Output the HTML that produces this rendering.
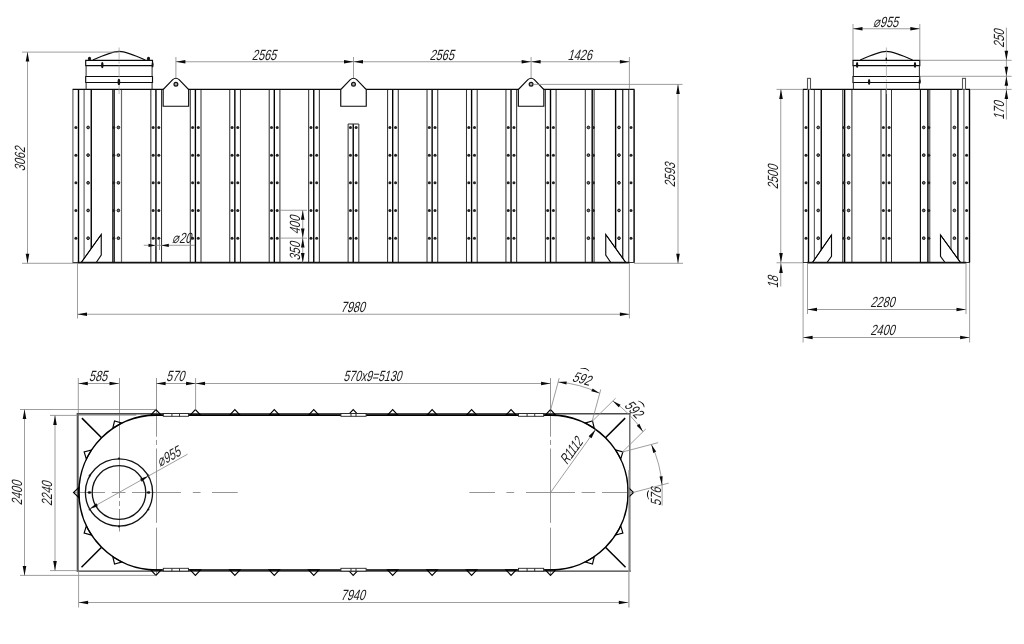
<!DOCTYPE html>
<html lang="ru"><head><meta charset="utf-8"><title>Tank drawing</title>
<style>
html,body{margin:0;padding:0;background:#fff;}
body{width:1024px;height:644px;overflow:hidden;}
svg{display:block;filter:grayscale(1);}
svg text{font-family:"Liberation Sans",sans-serif;font-style:normal;fill:#1c1c1c;}
.k{stroke:#000;stroke-width:1.4;fill:none}
.k2{stroke:#0a0a0a;stroke-width:1.15;fill:none}
.kk{stroke:#111;stroke-width:1.8;fill:none}
.t{stroke:#333;stroke-width:1.05;fill:none}
.g{stroke:#666;stroke-width:1.2;fill:none}
.arc{font-weight:bold;fill:#000 !important}
.d2{stroke:#999;stroke-width:1.2;fill:none}
.d{stroke:#858585;stroke-width:0.8;fill:none}
.dd{stroke:#555;stroke-width:0.8;fill:none}
.w{fill:#fff !important}
.kc{stroke:#111;stroke-width:1.3;fill:none}
.lh{stroke:#111;stroke-width:1.2;fill:#aaa}
.lg{stroke:#999;stroke-width:0.8;stroke-dasharray:5 2;fill:none}
.c{stroke:#8a8a8a;stroke-width:0.9;fill:none}
.cl{stroke:#999;stroke-width:0.7;stroke-dasharray:12 2 2 2;fill:none}
.cl2{stroke:#777;stroke-width:0.6;stroke-dasharray:14 5;fill:none}
.cl3{stroke:#888;stroke-width:0.6;stroke-dasharray:22 4 3 4;fill:none}
.f1{stroke:#3a3a3a;stroke-width:1.3;fill:none}
.f2{stroke:#4a4a4a;stroke-width:1.6;fill:none}
.f3{stroke:#777;stroke-width:1.3;fill:none}
.f4{stroke:#555;stroke-width:2;fill:none}
.f5{stroke:#555;stroke-width:1.3;fill:none}
.kg{stroke:#000;stroke-width:1.0;fill:none}
.st{stroke:#555;stroke-width:1.1;fill:#fff}
.ka{stroke:#000;stroke-width:1.55;fill:none}
.kb{stroke:#000;stroke-width:1.5;fill:none}
.ar{fill:#0a0a0a;stroke:none}
.tr{fill:none;stroke:#000;stroke-width:1.15;stroke-linejoin:miter}
.lr{fill:#fff;stroke:#222;stroke-width:0.9}
.hd{fill:#222;stroke:none}
.hr{fill:#777;stroke:#111;stroke-width:1.0}
</style></head>
<body>
<svg width="1024" height="644" viewBox="0 0 1024 644">
<rect width="1024" height="644" fill="#fff"/>
<line class="t" x1="150.84" y1="89.40" x2="150.84" y2="262.50"/>
<line class="k" x1="155.94" y1="89.40" x2="155.94" y2="262.50"/>
<line class="t" x1="161.54" y1="89.40" x2="161.54" y2="262.50"/>
<circle class="hd" cx="153.14" cy="127.45" r="1.5"/>
<circle class="hd" cx="158.84" cy="127.45" r="1.5"/>
<circle class="hd" cx="153.14" cy="155.15" r="1.5"/>
<circle class="hd" cx="158.84" cy="155.15" r="1.5"/>
<circle class="hd" cx="153.14" cy="182.80" r="1.5"/>
<circle class="hd" cx="158.84" cy="182.80" r="1.5"/>
<circle class="hd" cx="153.14" cy="210.45" r="1.5"/>
<circle class="hd" cx="158.84" cy="210.45" r="1.5"/>
<circle class="hd" cx="153.14" cy="238.20" r="1.5"/>
<circle class="hd" cx="158.84" cy="238.20" r="1.5"/>
<line class="t" x1="190.30" y1="89.40" x2="190.30" y2="262.50"/>
<line class="k" x1="195.40" y1="89.40" x2="195.40" y2="262.50"/>
<line class="t" x1="201.00" y1="89.40" x2="201.00" y2="262.50"/>
<circle class="hd" cx="192.60" cy="127.45" r="1.5"/>
<circle class="hd" cx="198.30" cy="127.45" r="1.5"/>
<circle class="hd" cx="192.60" cy="155.15" r="1.5"/>
<circle class="hd" cx="198.30" cy="155.15" r="1.5"/>
<circle class="hd" cx="192.60" cy="182.80" r="1.5"/>
<circle class="hd" cx="198.30" cy="182.80" r="1.5"/>
<circle class="hd" cx="192.60" cy="210.45" r="1.5"/>
<circle class="hd" cx="198.30" cy="210.45" r="1.5"/>
<circle class="hd" cx="192.60" cy="238.20" r="1.5"/>
<circle class="hd" cx="198.30" cy="238.20" r="1.5"/>
<line class="t" x1="229.75" y1="89.40" x2="229.75" y2="262.50"/>
<line class="k" x1="234.85" y1="89.40" x2="234.85" y2="262.50"/>
<line class="t" x1="240.45" y1="89.40" x2="240.45" y2="262.50"/>
<circle class="hd" cx="232.05" cy="127.45" r="1.5"/>
<circle class="hd" cx="237.75" cy="127.45" r="1.5"/>
<circle class="hd" cx="232.05" cy="155.15" r="1.5"/>
<circle class="hd" cx="237.75" cy="155.15" r="1.5"/>
<circle class="hd" cx="232.05" cy="182.80" r="1.5"/>
<circle class="hd" cx="237.75" cy="182.80" r="1.5"/>
<circle class="hd" cx="232.05" cy="210.45" r="1.5"/>
<circle class="hd" cx="237.75" cy="210.45" r="1.5"/>
<circle class="hd" cx="232.05" cy="238.20" r="1.5"/>
<circle class="hd" cx="237.75" cy="238.20" r="1.5"/>
<line class="t" x1="269.21" y1="89.40" x2="269.21" y2="262.50"/>
<line class="k" x1="274.31" y1="89.40" x2="274.31" y2="262.50"/>
<line class="t" x1="279.91" y1="89.40" x2="279.91" y2="262.50"/>
<circle class="hd" cx="271.51" cy="127.45" r="1.5"/>
<circle class="hd" cx="277.21" cy="127.45" r="1.5"/>
<circle class="hd" cx="271.51" cy="155.15" r="1.5"/>
<circle class="hd" cx="277.21" cy="155.15" r="1.5"/>
<circle class="hd" cx="271.51" cy="182.80" r="1.5"/>
<circle class="hd" cx="277.21" cy="182.80" r="1.5"/>
<circle class="hd" cx="271.51" cy="210.45" r="1.5"/>
<circle class="hd" cx="277.21" cy="210.45" r="1.5"/>
<circle class="hd" cx="271.51" cy="238.20" r="1.5"/>
<circle class="hd" cx="277.21" cy="238.20" r="1.5"/>
<line class="t" x1="308.66" y1="89.40" x2="308.66" y2="262.50"/>
<line class="k" x1="313.76" y1="89.40" x2="313.76" y2="262.50"/>
<line class="t" x1="319.36" y1="89.40" x2="319.36" y2="262.50"/>
<circle class="hd" cx="310.96" cy="127.45" r="1.5"/>
<circle class="hd" cx="316.66" cy="127.45" r="1.5"/>
<circle class="hd" cx="310.96" cy="155.15" r="1.5"/>
<circle class="hd" cx="316.66" cy="155.15" r="1.5"/>
<circle class="hd" cx="310.96" cy="182.80" r="1.5"/>
<circle class="hd" cx="316.66" cy="182.80" r="1.5"/>
<circle class="hd" cx="310.96" cy="210.45" r="1.5"/>
<circle class="hd" cx="316.66" cy="210.45" r="1.5"/>
<circle class="hd" cx="310.96" cy="238.20" r="1.5"/>
<circle class="hd" cx="316.66" cy="238.20" r="1.5"/>
<line class="t" x1="348.12" y1="124.00" x2="348.12" y2="262.50"/>
<line class="k" x1="353.22" y1="124.00" x2="353.22" y2="262.50"/>
<line class="t" x1="358.82" y1="124.00" x2="358.82" y2="262.50"/>
<line class="t" x1="348.12" y1="124.00" x2="358.82" y2="124.00"/>
<circle class="hd" cx="350.42" cy="127.45" r="1.5"/>
<circle class="hd" cx="356.12" cy="127.45" r="1.5"/>
<circle class="hd" cx="350.42" cy="155.15" r="1.5"/>
<circle class="hd" cx="356.12" cy="155.15" r="1.5"/>
<circle class="hd" cx="350.42" cy="182.80" r="1.5"/>
<circle class="hd" cx="356.12" cy="182.80" r="1.5"/>
<circle class="hd" cx="350.42" cy="210.45" r="1.5"/>
<circle class="hd" cx="356.12" cy="210.45" r="1.5"/>
<circle class="hd" cx="350.42" cy="238.20" r="1.5"/>
<circle class="hd" cx="356.12" cy="238.20" r="1.5"/>
<line class="t" x1="387.58" y1="89.40" x2="387.58" y2="262.50"/>
<line class="k" x1="392.68" y1="89.40" x2="392.68" y2="262.50"/>
<line class="t" x1="398.28" y1="89.40" x2="398.28" y2="262.50"/>
<circle class="hd" cx="389.88" cy="127.45" r="1.5"/>
<circle class="hd" cx="395.58" cy="127.45" r="1.5"/>
<circle class="hd" cx="389.88" cy="155.15" r="1.5"/>
<circle class="hd" cx="395.58" cy="155.15" r="1.5"/>
<circle class="hd" cx="389.88" cy="182.80" r="1.5"/>
<circle class="hd" cx="395.58" cy="182.80" r="1.5"/>
<circle class="hd" cx="389.88" cy="210.45" r="1.5"/>
<circle class="hd" cx="395.58" cy="210.45" r="1.5"/>
<circle class="hd" cx="389.88" cy="238.20" r="1.5"/>
<circle class="hd" cx="395.58" cy="238.20" r="1.5"/>
<line class="t" x1="427.03" y1="89.40" x2="427.03" y2="262.50"/>
<line class="k" x1="432.13" y1="89.40" x2="432.13" y2="262.50"/>
<line class="t" x1="437.73" y1="89.40" x2="437.73" y2="262.50"/>
<circle class="hd" cx="429.33" cy="127.45" r="1.5"/>
<circle class="hd" cx="435.03" cy="127.45" r="1.5"/>
<circle class="hd" cx="429.33" cy="155.15" r="1.5"/>
<circle class="hd" cx="435.03" cy="155.15" r="1.5"/>
<circle class="hd" cx="429.33" cy="182.80" r="1.5"/>
<circle class="hd" cx="435.03" cy="182.80" r="1.5"/>
<circle class="hd" cx="429.33" cy="210.45" r="1.5"/>
<circle class="hd" cx="435.03" cy="210.45" r="1.5"/>
<circle class="hd" cx="429.33" cy="238.20" r="1.5"/>
<circle class="hd" cx="435.03" cy="238.20" r="1.5"/>
<line class="t" x1="466.49" y1="89.40" x2="466.49" y2="262.50"/>
<line class="k" x1="471.59" y1="89.40" x2="471.59" y2="262.50"/>
<line class="t" x1="477.19" y1="89.40" x2="477.19" y2="262.50"/>
<circle class="hd" cx="468.79" cy="127.45" r="1.5"/>
<circle class="hd" cx="474.49" cy="127.45" r="1.5"/>
<circle class="hd" cx="468.79" cy="155.15" r="1.5"/>
<circle class="hd" cx="474.49" cy="155.15" r="1.5"/>
<circle class="hd" cx="468.79" cy="182.80" r="1.5"/>
<circle class="hd" cx="474.49" cy="182.80" r="1.5"/>
<circle class="hd" cx="468.79" cy="210.45" r="1.5"/>
<circle class="hd" cx="474.49" cy="210.45" r="1.5"/>
<circle class="hd" cx="468.79" cy="238.20" r="1.5"/>
<circle class="hd" cx="474.49" cy="238.20" r="1.5"/>
<line class="t" x1="505.94" y1="89.40" x2="505.94" y2="262.50"/>
<line class="k" x1="511.04" y1="89.40" x2="511.04" y2="262.50"/>
<line class="t" x1="516.64" y1="89.40" x2="516.64" y2="262.50"/>
<circle class="hd" cx="508.24" cy="127.45" r="1.5"/>
<circle class="hd" cx="513.94" cy="127.45" r="1.5"/>
<circle class="hd" cx="508.24" cy="155.15" r="1.5"/>
<circle class="hd" cx="513.94" cy="155.15" r="1.5"/>
<circle class="hd" cx="508.24" cy="182.80" r="1.5"/>
<circle class="hd" cx="513.94" cy="182.80" r="1.5"/>
<circle class="hd" cx="508.24" cy="210.45" r="1.5"/>
<circle class="hd" cx="513.94" cy="210.45" r="1.5"/>
<circle class="hd" cx="508.24" cy="238.20" r="1.5"/>
<circle class="hd" cx="513.94" cy="238.20" r="1.5"/>
<line class="t" x1="545.40" y1="89.40" x2="545.40" y2="262.50"/>
<line class="k" x1="550.50" y1="89.40" x2="550.50" y2="262.50"/>
<line class="t" x1="556.10" y1="89.40" x2="556.10" y2="262.50"/>
<circle class="hd" cx="547.70" cy="127.45" r="1.5"/>
<circle class="hd" cx="553.40" cy="127.45" r="1.5"/>
<circle class="hd" cx="547.70" cy="155.15" r="1.5"/>
<circle class="hd" cx="553.40" cy="155.15" r="1.5"/>
<circle class="hd" cx="547.70" cy="182.80" r="1.5"/>
<circle class="hd" cx="553.40" cy="182.80" r="1.5"/>
<circle class="hd" cx="547.70" cy="210.45" r="1.5"/>
<circle class="hd" cx="553.40" cy="210.45" r="1.5"/>
<circle class="hd" cx="547.70" cy="238.20" r="1.5"/>
<circle class="hd" cx="553.40" cy="238.20" r="1.5"/>
<line class="g" x1="72.90" y1="89.40" x2="72.90" y2="262.50"/>
<line class="k" x1="78.50" y1="89.40" x2="78.50" y2="262.50"/>
<line class="g" x1="84.10" y1="89.40" x2="84.10" y2="262.50"/>
<line class="k" x1="91.25" y1="89.40" x2="91.25" y2="262.50"/>
<line class="t" x1="112.60" y1="89.40" x2="112.60" y2="262.50"/>
<line class="k" x1="114.10" y1="89.40" x2="114.10" y2="262.50"/>
<line class="g" x1="121.50" y1="89.40" x2="121.50" y2="262.50"/>
<line class="t" x1="585.30" y1="89.40" x2="585.30" y2="262.50"/>
<line class="k" x1="592.20" y1="89.40" x2="592.20" y2="262.50"/>
<line class="t" x1="594.10" y1="89.40" x2="594.10" y2="262.50"/>
<line class="k" x1="615.60" y1="89.40" x2="615.60" y2="262.50"/>
<line class="k2" x1="622.75" y1="89.40" x2="622.75" y2="262.50"/>
<line class="t" x1="628.75" y1="89.40" x2="628.75" y2="262.50"/>
<line class="k" x1="634.10" y1="89.40" x2="634.10" y2="262.50"/>
<circle class="hd" cx="75.90" cy="127.45" r="1.5"/>
<circle class="hr" cx="88.10" cy="127.45" r="1.35"/>
<circle class="hd" cx="113.75" cy="127.45" r="1.5"/>
<circle class="hr" cx="118.40" cy="127.45" r="1.35"/>
<circle class="hr" cx="588.40" cy="127.45" r="1.35"/>
<circle class="hd" cx="593.40" cy="127.45" r="1.5"/>
<circle class="hr" cx="619.00" cy="127.45" r="1.35"/>
<circle class="hd" cx="631.00" cy="127.45" r="1.5"/>
<circle class="hd" cx="75.90" cy="155.15" r="1.5"/>
<circle class="hr" cx="88.10" cy="155.15" r="1.35"/>
<circle class="hd" cx="113.75" cy="155.15" r="1.5"/>
<circle class="hr" cx="118.40" cy="155.15" r="1.35"/>
<circle class="hr" cx="588.40" cy="155.15" r="1.35"/>
<circle class="hd" cx="593.40" cy="155.15" r="1.5"/>
<circle class="hr" cx="619.00" cy="155.15" r="1.35"/>
<circle class="hd" cx="631.00" cy="155.15" r="1.5"/>
<circle class="hd" cx="75.90" cy="182.80" r="1.5"/>
<circle class="hr" cx="88.10" cy="182.80" r="1.35"/>
<circle class="hd" cx="113.75" cy="182.80" r="1.5"/>
<circle class="hr" cx="118.40" cy="182.80" r="1.35"/>
<circle class="hr" cx="588.40" cy="182.80" r="1.35"/>
<circle class="hd" cx="593.40" cy="182.80" r="1.5"/>
<circle class="hr" cx="619.00" cy="182.80" r="1.35"/>
<circle class="hd" cx="631.00" cy="182.80" r="1.5"/>
<circle class="hd" cx="75.90" cy="210.45" r="1.5"/>
<circle class="hr" cx="88.10" cy="210.45" r="1.35"/>
<circle class="hd" cx="113.75" cy="210.45" r="1.5"/>
<circle class="hr" cx="118.40" cy="210.45" r="1.35"/>
<circle class="hr" cx="588.40" cy="210.45" r="1.35"/>
<circle class="hd" cx="593.40" cy="210.45" r="1.5"/>
<circle class="hr" cx="619.00" cy="210.45" r="1.35"/>
<circle class="hd" cx="631.00" cy="210.45" r="1.5"/>
<circle class="hd" cx="75.90" cy="238.20" r="1.5"/>
<circle class="hr" cx="88.10" cy="238.20" r="1.35"/>
<circle class="hd" cx="113.75" cy="238.20" r="1.5"/>
<circle class="hr" cx="118.40" cy="238.20" r="1.35"/>
<circle class="hr" cx="588.40" cy="238.20" r="1.35"/>
<circle class="hd" cx="593.40" cy="238.20" r="1.5"/>
<circle class="hr" cx="619.00" cy="238.20" r="1.35"/>
<circle class="hd" cx="631.00" cy="238.20" r="1.5"/>
<line class="k2" x1="72.60" y1="89.40" x2="634.50" y2="89.40"/>
<path class="k2 w" d="M81.25,262.5 L101.25,234.5 L101.25,255 L96.25,262.5"/>
<path class="k2 w" d="M625.75,262.5 L605.75,234.5 L605.75,255 L610.75,262.5"/>
<line class="kg" x1="81.25" y1="262.50" x2="101.25" y2="234.50"/>
<line class="kg" x1="625.75" y1="262.50" x2="605.75" y2="234.50"/>
<line class="t" x1="72.60" y1="262.50" x2="634.50" y2="262.50"/>
<line class="kk" x1="77.50" y1="262.60" x2="629.50" y2="262.60"/>
<path class="k2 w" d="M163.15,106.25 L163.15,89.6 L172.70,79.6 Q175.90,76.9 179.10,79.6 L188.65,89.6 L188.65,106.25 Z"/>
<circle class="lh" cx="175.90" cy="84.30" r="1.90"/>
<path class="k2 w" d="M340.75,106.25 L340.75,89.6 L350.30,79.6 Q353.50,76.9 356.70,79.6 L366.25,89.6 L366.25,106.25 Z"/>
<circle class="lh" cx="353.50" cy="84.30" r="1.90"/>
<path class="k2 w" d="M518.35,106.25 L518.35,89.6 L527.90,79.6 Q531.10,76.9 534.30,79.6 L543.85,89.6 L543.85,106.25 Z"/>
<circle class="lh" cx="531.10" cy="84.30" r="1.90"/>
<path class="k2" d="M85.70,60.3 H152.50 V65.6 H85.70 Z"/>
<path class="k2" d="M85.70,76.5 H152.50 V82.5 H85.70 Z"/>
<line class="t" x1="86.10" y1="65.60" x2="86.10" y2="76.50"/>
<line class="t" x1="152.10" y1="65.60" x2="152.10" y2="76.50"/>
<line class="t" x1="86.10" y1="82.50" x2="86.10" y2="89.40"/>
<line class="t" x1="152.10" y1="82.50" x2="152.10" y2="89.40"/>
<path class="k2" d="M92.90,60.1 C105.10,54.5 113.10,51.4 119.10,51.4 C125.10,51.4 133.10,54.5 145.30,60.1"/>
<line class="cl" x1="119.10" y1="47.50" x2="119.10" y2="94.00"/>
<ellipse cx="89.50" cy="58.70" rx="1.6" ry="1.9" fill="#111"/>
<ellipse cx="148.50" cy="58.70" rx="1.6" ry="1.9" fill="#111"/>
<ellipse cx="102.30" cy="65.10" rx="1.2" ry="3.2" fill="#111"/>
<ellipse cx="118.90" cy="81.90" rx="1.3" ry="3.2" fill="#111"/>
<ellipse cx="152.60" cy="64.70" rx="1.0" ry="2.8" fill="#111"/>
<line class="d" x1="22.00" y1="52.10" x2="119.00" y2="52.10"/>
<line class="d" x1="22.00" y1="263.30" x2="77.50" y2="263.30"/>
<line class="d" x1="27.50" y1="52.10" x2="27.50" y2="263.30"/>
<polygon class="ar" points="27.50,52.10 29.30,61.60 25.70,61.60"/>
<polygon class="ar" points="27.50,263.30 25.70,253.80 29.30,253.80"/>
<text transform="translate(24.90,159.20) rotate(-90) skewX(-15) scale(0.74,1)" font-size="14.8" text-anchor="middle">3062</text>
<line class="d" x1="175.90" y1="57.00" x2="175.90" y2="78.00"/>
<line class="d" x1="353.50" y1="57.00" x2="353.50" y2="78.00"/>
<line class="d" x1="531.10" y1="57.00" x2="531.10" y2="78.00"/>
<line class="d" x1="629.40" y1="57.00" x2="629.40" y2="89.40"/>
<line class="d" x1="175.90" y1="61.75" x2="353.50" y2="61.75"/>
<polygon class="ar" points="175.90,61.75 185.40,59.95 185.40,63.55"/>
<polygon class="ar" points="353.50,61.75 344.00,63.55 344.00,59.95"/>
<text transform="translate(264.00,59.65) rotate(0) skewX(-15) scale(0.74,1)" font-size="14.8" text-anchor="middle">2565</text>
<line class="d" x1="353.50" y1="61.75" x2="531.10" y2="61.75"/>
<polygon class="ar" points="353.50,61.75 363.00,59.95 363.00,63.55"/>
<polygon class="ar" points="531.10,61.75 521.60,63.55 521.60,59.95"/>
<text transform="translate(441.60,59.65) rotate(0) skewX(-15) scale(0.74,1)" font-size="14.8" text-anchor="middle">2565</text>
<line class="d" x1="531.10" y1="61.75" x2="629.40" y2="61.75"/>
<polygon class="ar" points="531.10,61.75 540.60,59.95 540.60,63.55"/>
<polygon class="ar" points="629.40,61.75 619.90,63.55 619.90,59.95"/>
<text transform="translate(579.55,59.65) rotate(0) skewX(-15) scale(0.74,1)" font-size="14.8" text-anchor="middle">1426</text>
<line class="d" x1="533.10" y1="84.40" x2="682.50" y2="84.40"/>
<line class="d" x1="634.00" y1="263.30" x2="683.00" y2="263.30"/>
<line class="d" x1="678.00" y1="84.40" x2="678.00" y2="263.30"/>
<polygon class="ar" points="678.00,84.40 679.80,93.90 676.20,93.90"/>
<polygon class="ar" points="678.00,263.30 676.20,253.80 679.80,253.80"/>
<text transform="translate(675.40,175.05) rotate(-90) skewX(-15) scale(0.74,1)" font-size="14.8" text-anchor="middle">2593</text>
<line class="d" x1="77.50" y1="263.00" x2="77.50" y2="318.50"/>
<line class="d" x1="629.40" y1="263.00" x2="629.40" y2="318.50"/>
<line class="d" x1="77.50" y1="314.25" x2="629.40" y2="314.25"/>
<polygon class="ar" points="77.50,314.25 87.00,312.45 87.00,316.05"/>
<polygon class="ar" points="629.40,314.25 619.90,316.05 619.90,312.45"/>
<text transform="translate(352.75,312.15) rotate(0) skewX(-15) scale(0.74,1)" font-size="14.8" text-anchor="middle">7980</text>
<line class="d" x1="143.75" y1="245.30" x2="195.00" y2="245.30"/>
<polygon class="ar" points="155.50,245.40 148.50,247.10 148.50,243.70"/>
<polygon class="ar" points="161.30,245.40 168.80,243.70 168.80,247.10"/>
<line class="c" x1="159.50" y1="240.00" x2="159.50" y2="250.00"/>
<text transform="translate(181.80,242.60) rotate(0) skewX(-15) scale(0.74,1)" font-size="14.8" text-anchor="middle">⌀20</text>
<line class="d" x1="279.00" y1="210.25" x2="307.00" y2="210.25"/>
<line class="d" x1="279.00" y1="238.10" x2="307.00" y2="238.10"/>
<line class="d" x1="302.75" y1="210.25" x2="302.75" y2="262.50"/>
<polygon class="ar" points="302.75,210.25 304.55,219.75 300.95,219.75"/>
<polygon class="ar" points="302.75,238.10 300.95,228.60 304.55,228.60"/>
<polygon class="ar" points="302.75,238.10 304.55,247.60 300.95,247.60"/>
<polygon class="ar" points="302.75,262.50 300.95,253.00 304.55,253.00"/>
<text transform="translate(300.20,225.10) rotate(-90) skewX(-15) scale(0.74,1)" font-size="14.8" text-anchor="middle">400</text>
<text transform="translate(300.20,251.40) rotate(-90) skewX(-15) scale(0.74,1)" font-size="14.8" text-anchor="middle">350</text>
<line class="t" x1="803.20" y1="89.40" x2="803.20" y2="262.50"/>
<line class="k" x1="808.50" y1="89.40" x2="808.50" y2="262.50"/>
<line class="g" x1="814.40" y1="89.40" x2="814.40" y2="262.50"/>
<line class="k" x1="821.25" y1="89.40" x2="821.25" y2="262.50"/>
<line class="t" x1="842.75" y1="89.40" x2="842.75" y2="262.50"/>
<line class="k" x1="844.60" y1="89.40" x2="844.60" y2="262.50"/>
<line class="t" x1="851.90" y1="89.40" x2="851.90" y2="262.50"/>
<line class="t" x1="881.00" y1="89.40" x2="881.00" y2="262.50"/>
<line class="k2" x1="886.20" y1="89.40" x2="886.20" y2="262.50"/>
<line class="t" x1="891.50" y1="89.40" x2="891.50" y2="262.50"/>
<line class="k2" x1="920.40" y1="89.40" x2="920.40" y2="262.50"/>
<line class="k" x1="927.90" y1="89.40" x2="927.90" y2="262.50"/>
<line class="g" x1="929.75" y1="89.40" x2="929.75" y2="262.50"/>
<line class="t" x1="951.00" y1="89.40" x2="951.00" y2="262.50"/>
<line class="k" x1="957.90" y1="89.40" x2="957.90" y2="262.50"/>
<line class="g" x1="963.90" y1="89.40" x2="963.90" y2="262.50"/>
<line class="k" x1="969.50" y1="89.40" x2="969.50" y2="262.50"/>
<circle class="hd" cx="806.00" cy="127.45" r="1.5"/>
<circle class="hr" cx="818.20" cy="127.45" r="1.35"/>
<circle class="hd" cx="843.75" cy="127.45" r="1.5"/>
<circle class="hr" cx="848.60" cy="127.45" r="1.35"/>
<circle class="hd" cx="883.40" cy="127.45" r="1.5"/>
<circle class="hd" cx="889.10" cy="127.45" r="1.5"/>
<circle class="hr" cx="923.75" cy="127.45" r="1.35"/>
<circle class="hd" cx="928.75" cy="127.45" r="1.5"/>
<circle class="hr" cx="954.40" cy="127.45" r="1.35"/>
<circle class="hd" cx="966.60" cy="127.45" r="1.5"/>
<circle class="hd" cx="806.00" cy="155.15" r="1.5"/>
<circle class="hr" cx="818.20" cy="155.15" r="1.35"/>
<circle class="hd" cx="843.75" cy="155.15" r="1.5"/>
<circle class="hr" cx="848.60" cy="155.15" r="1.35"/>
<circle class="hd" cx="883.40" cy="155.15" r="1.5"/>
<circle class="hd" cx="889.10" cy="155.15" r="1.5"/>
<circle class="hr" cx="923.75" cy="155.15" r="1.35"/>
<circle class="hd" cx="928.75" cy="155.15" r="1.5"/>
<circle class="hr" cx="954.40" cy="155.15" r="1.35"/>
<circle class="hd" cx="966.60" cy="155.15" r="1.5"/>
<circle class="hd" cx="806.00" cy="182.80" r="1.5"/>
<circle class="hr" cx="818.20" cy="182.80" r="1.35"/>
<circle class="hd" cx="843.75" cy="182.80" r="1.5"/>
<circle class="hr" cx="848.60" cy="182.80" r="1.35"/>
<circle class="hd" cx="883.40" cy="182.80" r="1.5"/>
<circle class="hd" cx="889.10" cy="182.80" r="1.5"/>
<circle class="hr" cx="923.75" cy="182.80" r="1.35"/>
<circle class="hd" cx="928.75" cy="182.80" r="1.5"/>
<circle class="hr" cx="954.40" cy="182.80" r="1.35"/>
<circle class="hd" cx="966.60" cy="182.80" r="1.5"/>
<circle class="hd" cx="806.00" cy="210.45" r="1.5"/>
<circle class="hr" cx="818.20" cy="210.45" r="1.35"/>
<circle class="hd" cx="843.75" cy="210.45" r="1.5"/>
<circle class="hr" cx="848.60" cy="210.45" r="1.35"/>
<circle class="hd" cx="883.40" cy="210.45" r="1.5"/>
<circle class="hd" cx="889.10" cy="210.45" r="1.5"/>
<circle class="hr" cx="923.75" cy="210.45" r="1.35"/>
<circle class="hd" cx="928.75" cy="210.45" r="1.5"/>
<circle class="hr" cx="954.40" cy="210.45" r="1.35"/>
<circle class="hd" cx="966.60" cy="210.45" r="1.5"/>
<circle class="hd" cx="806.00" cy="238.20" r="1.5"/>
<circle class="hr" cx="818.20" cy="238.20" r="1.35"/>
<circle class="hd" cx="843.75" cy="238.20" r="1.5"/>
<circle class="hr" cx="848.60" cy="238.20" r="1.35"/>
<circle class="hd" cx="883.40" cy="238.20" r="1.5"/>
<circle class="hd" cx="889.10" cy="238.20" r="1.5"/>
<circle class="hr" cx="923.75" cy="238.20" r="1.35"/>
<circle class="hd" cx="928.75" cy="238.20" r="1.5"/>
<circle class="hr" cx="954.40" cy="238.20" r="1.35"/>
<circle class="hd" cx="966.60" cy="238.20" r="1.5"/>
<line class="k2" x1="802.80" y1="89.40" x2="970.00" y2="89.40"/>
<path class="k2 w" d="M812.5,262.5 L831.5,235 L831.5,256.25 L827,262.5"/>
<path class="k2 w" d="M960.5,262.5 L940.5,235 L940.5,256.25 L945,262.5"/>
<line class="kg" x1="812.50" y1="262.50" x2="831.50" y2="235.00"/>
<line class="kg" x1="960.50" y1="262.50" x2="940.50" y2="235.00"/>
<line class="t" x1="802.80" y1="262.50" x2="970.00" y2="262.50"/>
<line class="kk" x1="807.30" y1="262.60" x2="966.20" y2="262.60"/>
<rect class="st" x="807.50" y="78.4" width="3" height="11.00" fill="#fff"/>
<rect class="st" x="962.50" y="78.4" width="3" height="11.00" fill="#fff"/>
<path class="k2" d="M853.00,60.3 H919.80 V65.6 H853.00 Z"/>
<path class="k2" d="M853.00,76.5 H919.80 V82.5 H853.00 Z"/>
<line class="t" x1="853.40" y1="65.60" x2="853.40" y2="76.50"/>
<line class="t" x1="919.40" y1="65.60" x2="919.40" y2="76.50"/>
<line class="t" x1="853.40" y1="82.50" x2="853.40" y2="89.40"/>
<line class="t" x1="919.40" y1="82.50" x2="919.40" y2="89.40"/>
<path class="k2" d="M860.20,60.1 C872.40,54.5 880.40,51.4 886.40,51.4 C892.40,51.4 900.40,54.5 912.60,60.1"/>
<line class="cl" x1="886.40" y1="47.50" x2="886.40" y2="94.00"/>
<ellipse cx="857.10" cy="65.10" rx="1.2" ry="3.0" fill="#111"/>
<ellipse cx="915.00" cy="65.10" rx="1.2" ry="3.0" fill="#111"/>
<ellipse cx="869.10" cy="81.90" rx="1.2" ry="3.0" fill="#111"/>
<ellipse cx="886.30" cy="58.90" rx="0.8" ry="1.4" fill="#111"/>
<ellipse cx="919.70" cy="81.50" rx="1.0" ry="2.6" fill="#111"/>
<line class="d" x1="853.00" y1="24.00" x2="853.00" y2="60.00"/>
<line class="d" x1="919.80" y1="24.00" x2="919.80" y2="60.00"/>
<line class="d" x1="853.00" y1="28.75" x2="919.80" y2="28.75"/>
<polygon class="ar" points="853.00,28.75 862.50,26.95 862.50,30.55"/>
<polygon class="ar" points="919.80,28.75 910.30,30.55 910.30,26.95"/>
<text transform="translate(885.70,26.65) rotate(0) skewX(-15) scale(0.74,1)" font-size="14.8" text-anchor="middle">⌀955</text>
<line class="d" x1="776.50" y1="89.40" x2="803.00" y2="89.40"/>
<line class="d" x1="776.50" y1="262.75" x2="803.00" y2="262.75"/>
<line class="d" x1="780.75" y1="89.40" x2="780.75" y2="286.50"/>
<polygon class="ar" points="781.00,89.40 782.80,98.90 779.20,98.90"/>
<polygon class="ar" points="781.00,262.60 779.20,253.10 782.80,253.10"/>
<polygon class="ar" points="781.00,263.60 782.80,273.10 779.20,273.10"/>
<text transform="translate(778.40,177.15) rotate(-90) skewX(-15) scale(0.74,1)" font-size="14.8" text-anchor="middle">2500</text>
<text transform="translate(778.40,282.20) rotate(-90) skewX(-15) scale(0.74,1)" font-size="14.8" text-anchor="middle">18</text>
<line class="d" x1="919.80" y1="60.30" x2="1011.60" y2="60.30"/>
<line class="d" x1="919.80" y1="76.30" x2="1011.60" y2="76.30"/>
<line class="d" x1="970.00" y1="89.40" x2="1011.60" y2="89.40"/>
<line class="d" x1="1006.40" y1="27.70" x2="1006.40" y2="119.50"/>
<polygon class="ar" points="1006.40,60.30 1004.60,50.80 1008.20,50.80"/>
<polygon class="ar" points="1006.40,76.30 1004.60,66.80 1008.20,66.80"/>
<polygon class="ar" points="1006.40,76.30 1008.20,85.80 1004.60,85.80"/>
<polygon class="ar" points="1006.40,89.40 1008.20,98.90 1004.60,98.90"/>
<text transform="translate(1003.80,38.70) rotate(-90) skewX(-15) scale(0.74,1)" font-size="14.8" text-anchor="middle">250</text>
<text transform="translate(1003.80,110.60) rotate(-90) skewX(-15) scale(0.74,1)" font-size="14.8" text-anchor="middle">170</text>
<line class="d" x1="803.10" y1="263.00" x2="803.10" y2="342.50"/>
<line class="d" x1="969.60" y1="263.00" x2="969.60" y2="342.50"/>
<line class="d" x1="807.50" y1="263.00" x2="807.50" y2="314.00"/>
<line class="d" x1="966.00" y1="263.00" x2="966.00" y2="314.00"/>
<line class="d" x1="807.50" y1="309.50" x2="966.00" y2="309.50"/>
<polygon class="ar" points="807.50,309.50 817.00,307.70 817.00,311.30"/>
<polygon class="ar" points="966.00,309.50 956.50,311.30 956.50,307.70"/>
<text transform="translate(882.40,307.40) rotate(0) skewX(-15) scale(0.74,1)" font-size="14.8" text-anchor="middle">2280</text>
<line class="d" x1="803.10" y1="337.50" x2="969.60" y2="337.50"/>
<polygon class="ar" points="803.10,337.50 812.60,335.70 812.60,339.30"/>
<polygon class="ar" points="969.60,337.50 960.10,339.30 960.10,335.70"/>
<text transform="translate(882.40,335.40) rotate(0) skewX(-15) scale(0.74,1)" font-size="14.8" text-anchor="middle">2400</text>
<line class="c" x1="74.00" y1="492.50" x2="76.50" y2="492.50"/>
<line class="c" x1="630.50" y1="492.50" x2="633.00" y2="492.50"/>
<line class="c" x1="79.50" y1="492.50" x2="105.00" y2="492.50"/>
<line class="c" x1="602.00" y1="492.50" x2="627.50" y2="492.50"/>
<line class="c" x1="111.80" y1="492.50" x2="125.40" y2="492.50"/>
<line class="c" x1="581.60" y1="492.50" x2="595.20" y2="492.50"/>
<line class="c" x1="132.00" y1="492.50" x2="181.00" y2="492.50"/>
<line class="c" x1="526.00" y1="492.50" x2="575.00" y2="492.50"/>
<line class="c" x1="192.80" y1="492.50" x2="200.60" y2="492.50"/>
<line class="c" x1="506.40" y1="492.50" x2="514.20" y2="492.50"/>
<line class="c" x1="212.00" y1="492.50" x2="237.70" y2="492.50"/>
<line class="c" x1="469.30" y1="492.50" x2="495.00" y2="492.50"/>
<line class="c" x1="119.50" y1="378.00" x2="119.50" y2="498.00"/>
<line class="c" x1="119.50" y1="501.00" x2="119.50" y2="506.00"/>
<line class="c" x1="119.50" y1="509.00" x2="119.50" y2="531.50"/>
<line class="c" x1="156.50" y1="378.00" x2="156.50" y2="436.70"/>
<line class="c" x1="156.50" y1="440.00" x2="156.50" y2="445.00"/>
<line class="c" x1="156.50" y1="448.50" x2="156.50" y2="522.80"/>
<line class="c" x1="156.50" y1="527.70" x2="156.50" y2="575.00"/>
<line class="c" x1="550.50" y1="378.00" x2="550.50" y2="436.70"/>
<line class="c" x1="550.50" y1="440.00" x2="550.50" y2="445.00"/>
<line class="c" x1="550.50" y1="448.50" x2="550.50" y2="522.80"/>
<line class="c" x1="550.50" y1="527.70" x2="550.50" y2="575.00"/>
<line class="f2" x1="76.70" y1="413.80" x2="630.70" y2="413.80"/>
<line class="f3" x1="77.70" y1="414.90" x2="136.30" y2="414.90"/>
<line class="f1" x1="76.70" y1="571.15" x2="630.70" y2="571.15"/>
<line class="f4" x1="77.70" y1="413.80" x2="77.70" y2="571.15"/>
<line class="f5" x1="629.80" y1="413.80" x2="629.80" y2="571.15"/>
<path class="ka" d="M156.30,415.10 H550.75 A77.4,77.4 0 0 1 550.75,569.90 H156.30 A77.4,77.4 0 0 1 156.30,415.10 Z"/>
<polygon class="tr" points="161.14,415.10 155.94,409.70 150.74,415.10"/>
<polygon class="tr" points="150.74,569.90 155.94,575.30 161.14,569.90"/>
<polygon class="tr" points="200.60,415.10 195.40,409.70 190.20,415.10"/>
<polygon class="tr" points="190.20,569.90 195.40,575.30 200.60,569.90"/>
<polygon class="tr" points="240.05,415.10 234.85,409.70 229.65,415.10"/>
<polygon class="tr" points="229.65,569.90 234.85,575.30 240.05,569.90"/>
<polygon class="tr" points="279.51,415.10 274.31,409.70 269.11,415.10"/>
<polygon class="tr" points="269.11,569.90 274.31,575.30 279.51,569.90"/>
<polygon class="tr" points="318.96,415.10 313.76,409.70 308.56,415.10"/>
<polygon class="tr" points="308.56,569.90 313.76,575.30 318.96,569.90"/>
<polygon class="tr" points="358.42,415.10 353.22,409.70 348.02,415.10"/>
<polygon class="tr" points="348.02,569.90 353.22,575.30 358.42,569.90"/>
<polygon class="tr" points="397.88,415.10 392.68,409.70 387.48,415.10"/>
<polygon class="tr" points="387.48,569.90 392.68,575.30 397.88,569.90"/>
<polygon class="tr" points="437.33,415.10 432.13,409.70 426.93,415.10"/>
<polygon class="tr" points="426.93,569.90 432.13,575.30 437.33,569.90"/>
<polygon class="tr" points="476.79,415.10 471.59,409.70 466.39,415.10"/>
<polygon class="tr" points="466.39,569.90 471.59,575.30 476.79,569.90"/>
<polygon class="tr" points="516.24,415.10 511.04,409.70 505.84,415.10"/>
<polygon class="tr" points="505.84,569.90 511.04,575.30 516.24,569.90"/>
<polygon class="tr" points="555.70,415.10 550.50,409.70 545.30,415.10"/>
<polygon class="tr" points="545.30,569.90 550.50,575.30 555.70,569.90"/>
<polygon class="tr" points="112.76,556.70 114.53,563.99 121.74,561.95"/>
<polygon class="tr" points="121.74,423.05 114.53,421.01 112.76,428.30"/>
<polygon class="tr" points="585.31,561.95 592.52,563.99 594.29,556.70"/>
<polygon class="tr" points="594.29,428.30 592.52,421.01 585.31,423.05"/>
<polygon class="tr" points="86.32,525.97 84.16,533.15 91.42,535.03"/>
<polygon class="tr" points="91.42,449.97 84.16,451.85 86.32,459.03"/>
<polygon class="tr" points="615.63,535.03 622.89,533.15 620.73,525.97"/>
<polygon class="tr" points="620.73,459.03 622.89,451.85 615.63,449.97"/>
<polygon class="tr" points="78.90,487.30 73.50,492.50 78.90,497.70"/>
<polygon class="tr" points="628.15,497.70 633.55,492.50 628.15,487.30"/>
<line class="kb" x1="101.57" y1="437.77" x2="81.90" y2="418.10"/>
<line class="kb" x1="101.57" y1="547.23" x2="81.50" y2="567.30"/>
<line class="kb" x1="605.48" y1="437.77" x2="625.15" y2="418.10"/>
<line class="kb" x1="605.48" y1="547.23" x2="625.55" y2="567.30"/>
<rect class="lr" x="163.30" y="413.50" width="25.2" height="2.8"/>
<line class="t" x1="171.90" y1="413.40" x2="171.90" y2="416.60"/>
<line class="t" x1="179.50" y1="413.40" x2="179.50" y2="416.60"/>
<rect class="lr" x="163.30" y="568.30" width="25.2" height="2.8"/>
<line class="t" x1="171.90" y1="568.20" x2="171.90" y2="571.40"/>
<line class="t" x1="179.50" y1="568.20" x2="179.50" y2="571.40"/>
<rect class="lr" x="340.90" y="413.50" width="25.2" height="2.8"/>
<line class="t" x1="351.00" y1="413.40" x2="351.00" y2="416.60"/>
<line class="t" x1="356.00" y1="413.40" x2="356.00" y2="416.60"/>
<rect class="lr" x="340.90" y="568.30" width="25.2" height="2.8"/>
<line class="t" x1="351.00" y1="568.20" x2="351.00" y2="571.40"/>
<line class="t" x1="356.00" y1="568.20" x2="356.00" y2="571.40"/>
<rect class="lr" x="518.50" y="413.50" width="25.2" height="2.8"/>
<line class="t" x1="527.10" y1="413.40" x2="527.10" y2="416.60"/>
<line class="t" x1="534.70" y1="413.40" x2="534.70" y2="416.60"/>
<rect class="lr" x="518.50" y="568.30" width="25.2" height="2.8"/>
<line class="t" x1="527.10" y1="568.20" x2="527.10" y2="571.40"/>
<line class="t" x1="534.70" y1="568.20" x2="534.70" y2="571.40"/>
<circle class="kc" cx="119.00" cy="492.50" r="33.60"/>
<circle class="kc" cx="119.00" cy="492.50" r="26.80"/>
<ellipse cx="148.60" cy="492.50" rx="1.7" ry="1.3" fill="#111"/>
<ellipse cx="89.40" cy="492.50" rx="1.7" ry="1.3" fill="#111"/>
<circle cx="119.00" cy="526.40" r="1.1" fill="#111"/>
<circle cx="119.00" cy="458.60" r="1.1" fill="#111"/>
<circle cx="89.64" cy="475.55" r="1.0" fill="#111"/>
<circle cx="148.36" cy="475.55" r="1.0" fill="#111"/>
<circle cx="89.64" cy="509.45" r="1.0" fill="#111"/>
<circle cx="148.36" cy="509.45" r="1.0" fill="#111"/>
<line class="d" x1="78.30" y1="378.00" x2="78.30" y2="413.00"/>
<line class="d" x1="78.30" y1="383.50" x2="119.00" y2="383.50"/>
<polygon class="ar" points="78.30,383.50 87.80,381.70 87.80,385.30"/>
<polygon class="ar" points="119.00,383.50 109.50,385.30 109.50,381.70"/>
<text transform="translate(97.95,381.40) rotate(0) skewX(-15) scale(0.74,1)" font-size="14.8" text-anchor="middle">585</text>
<line class="d" x1="195.58" y1="378.00" x2="195.58" y2="410.00"/>
<line class="d" x1="156.15" y1="383.50" x2="195.58" y2="383.50"/>
<polygon class="ar" points="156.15,383.50 165.65,381.70 165.65,385.30"/>
<polygon class="ar" points="195.58,383.50 186.08,385.30 186.08,381.70"/>
<text transform="translate(175.17,381.40) rotate(0) skewX(-15) scale(0.74,1)" font-size="14.8" text-anchor="middle">570</text>
<line class="d" x1="195.58" y1="383.50" x2="550.55" y2="383.50"/>
<polygon class="ar" points="195.58,383.50 205.08,381.70 205.08,385.30"/>
<polygon class="ar" points="550.55,383.50 541.05,385.30 541.05,381.70"/>
<text transform="translate(372.30,381.40) rotate(0) skewX(-15) scale(0.7103999999999999,1)" font-size="14.8" text-anchor="middle">570x9=5130</text>
<line class="d" x1="20.00" y1="409.50" x2="156.15" y2="409.50"/>
<line class="d" x1="20.00" y1="575.40" x2="156.15" y2="575.40"/>
<line class="d" x1="24.50" y1="409.50" x2="24.50" y2="575.40"/>
<polygon class="ar" points="24.50,409.50 26.30,419.00 22.70,419.00"/>
<polygon class="ar" points="24.50,575.40 22.70,565.90 26.30,565.90"/>
<text transform="translate(21.90,493.20) rotate(-90) skewX(-15) scale(0.74,1)" font-size="14.8" text-anchor="middle">2400</text>
<line class="d" x1="50.00" y1="415.40" x2="77.70" y2="415.40"/>
<line class="d" x1="50.00" y1="570.60" x2="77.70" y2="570.60"/>
<line class="d" x1="55.00" y1="415.40" x2="55.00" y2="570.60"/>
<polygon class="ar" points="55.00,415.40 56.80,424.90 53.20,424.90"/>
<polygon class="ar" points="55.00,570.60 53.20,561.10 56.80,561.10"/>
<text transform="translate(52.40,493.80) rotate(-90) skewX(-15) scale(0.74,1)" font-size="14.8" text-anchor="middle">2240</text>
<line class="d" x1="78.60" y1="571.00" x2="78.60" y2="607.50"/>
<line class="d2" x1="628.90" y1="470.00" x2="628.90" y2="607.50"/>
<line class="d" x1="78.60" y1="602.50" x2="628.30" y2="602.50"/>
<polygon class="ar" points="78.60,602.50 88.10,600.70 88.10,604.30"/>
<polygon class="ar" points="628.30,602.50 618.80,604.30 618.80,600.70"/>
<text transform="translate(352.75,600.40) rotate(0) skewX(-15) scale(0.74,1)" font-size="14.8" text-anchor="middle">7940</text>
<line class="d" x1="89.67" y1="508.89" x2="187.52" y2="454.20"/>
<polygon class="ar" points="148.33,476.11 141.74,481.74 140.08,478.77"/>
<polygon class="ar" points="89.67,508.89 96.26,503.26 97.92,506.23"/>
<text transform="translate(171.00,460.92) rotate(-29.2) skewX(-15) scale(0.74,1)" font-size="14.8" text-anchor="middle">⌀955</text>
<line class="d" x1="550.55" y1="492.50" x2="595.61" y2="429.57"/>
<polygon class="ar" points="595.61,429.57 591.54,438.34 588.61,436.24"/>
<text transform="translate(575.26,453.86) rotate(-54.4) skewX(-15) scale(0.6808000000000001,1)" font-size="14.8" text-anchor="middle">R1112</text>
<line class="d" x1="550.55" y1="410.10" x2="559.17" y2="378.25"/>
<line class="d" x1="592.12" y1="421.36" x2="600.75" y2="389.50"/>
<path class="d" d="M558.13,382.11 A110.65,110.65 0 0 1 599.70,393.36" fill="none"/>
<polygon class="ar" points="558.13,382.11 566.75,381.43 566.41,384.61"/>
<polygon class="ar" points="599.70,393.36 591.29,391.35 592.60,388.43"/>
<text transform="translate(580.36,383.37) rotate(15.2) skewX(-15) scale(0.74,1)" font-size="14.8" text-anchor="middle">592</text>
<text transform="translate(581.13,376.80) rotate(15.2) skewX(-15) scale(0.95,1)" font-size="11" text-anchor="middle" class="arc">⌒</text>
<line class="d" x1="592.12" y1="421.36" x2="615.64" y2="398.21"/>
<line class="d" x1="622.34" y1="452.05" x2="645.86" y2="428.90"/>
<path class="d" d="M612.79,401.01 A110.65,110.65 0 0 1 643.00,431.71" fill="none"/>
<polygon class="ar" points="612.79,401.01 620.58,404.78 618.67,407.35"/>
<polygon class="ar" points="643.00,431.71 636.76,425.72 639.36,423.86"/>
<text transform="translate(630.05,412.56) rotate(45.4) skewX(-15) scale(0.74,1)" font-size="14.8" text-anchor="middle">592</text>
<text transform="translate(634.89,407.79) rotate(45.4) skewX(-15) scale(0.95,1)" font-size="11" text-anchor="middle" class="arc">⌒</text>
<line class="d" x1="622.34" y1="452.05" x2="658.13" y2="442.66"/>
<line class="d" x1="632.95" y1="492.50" x2="668.74" y2="483.11"/>
<path class="d" d="M651.36,444.44 A111.68,111.68 0 0 1 661.97,484.89" fill="none"/>
<polygon class="ar" points="651.36,444.44 656.19,451.61 653.25,452.88"/>
<polygon class="ar" points="661.97,484.89 659.48,476.60 662.66,476.27"/>
<text transform="translate(661.00,496.80) rotate(-90) skewX(-15) scale(0.74,1)" font-size="14.8" text-anchor="middle">576</text>
<line class="d" x1="662.10" y1="483.00" x2="662.10" y2="505.50"/>
<text transform="translate(655.50,497.20) rotate(-90) skewX(-15) scale(0.95,1)" font-size="11" text-anchor="middle" class="arc">⌒</text>
</svg>
</body></html>
